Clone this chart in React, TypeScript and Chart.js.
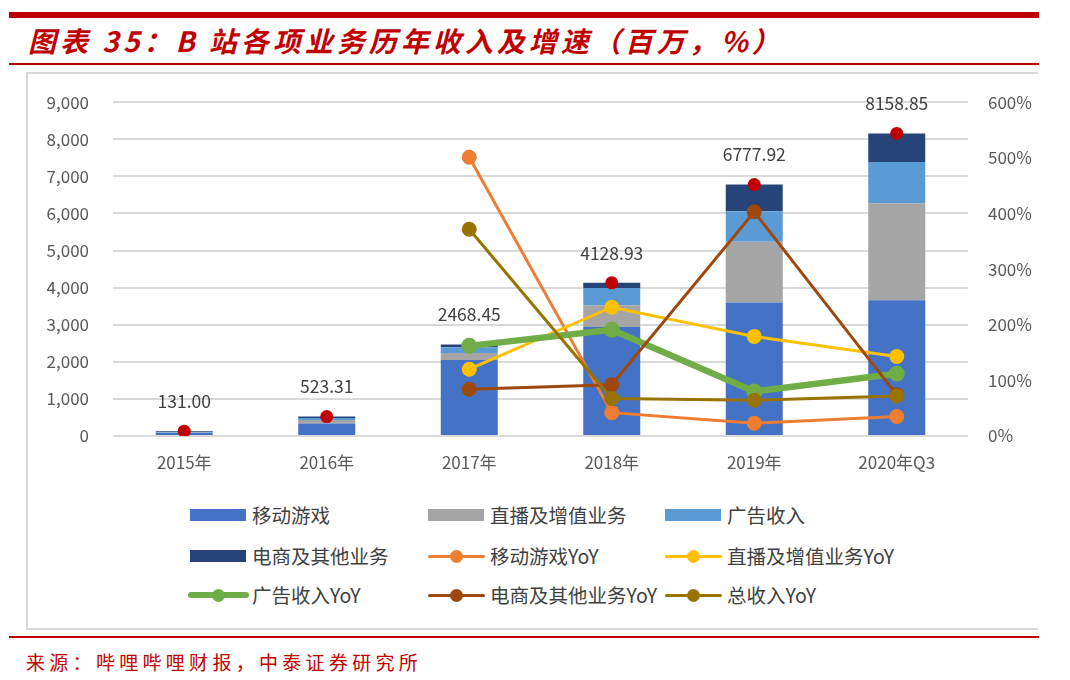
import React, { useEffect, useRef } from "react";
import { Chart, registerables } from "chart.js";

Chart.register(...registerables);

const categories = ["2015年", "2016年", "2017年", "2018年", "2019年", "2020年Q3"];

// revenue segments (百万)
const mobileGames = [80, 339, 2050, 2936, 3598, 3660];
const liveVas = [5, 90, 185, 588, 1642, 2615];
const advertising = [25, 59, 157, 464, 818, 1110];
const ecommerce = [21, 35.31, 76.45, 140.93, 719.92, 773.85];
const totals = [131.0, 523.31, 2468.45, 4128.93, 6777.92, 8158.85];

// YoY (%)
const mobileYoY = [null, null, 501, 42, 23, 35];
const liveYoY = [null, null, 120, 231.5, 179, 143];
const adYoY = [null, null, 162, 191, 80, 112];
const ecomYoY = [null, null, 84, 92, 403, 74];
const totalYoY = [null, null, 371.7, 67.3, 64.2, 72.1];

const leftMax = 9000;
const leftStep = 1000;
const rightMax = 600;
const rightStep = 100;

const FONT = '"Noto Sans CJK SC", "Noto Sans", sans-serif';

const barSeries = [
  { label: "移动游戏", data: mobileGames, color: "#4472C4" },
  { label: "直播及增值业务", data: liveVas, color: "#A5A5A5" },
  { label: "广告收入", data: advertising, color: "#5B9BD5" },
  { label: "电商及其他业务", data: ecommerce, color: "#264478" },
];

const lineSeries = [
  { label: "移动游戏YoY", data: mobileYoY, color: "#ED7D31", width: 3, radius: 7.5, order: 40 },
  { label: "直播及增值业务YoY", data: liveYoY, color: "#FFC000", width: 3, radius: 7.5, order: 30 },
  { label: "广告收入YoY", data: adYoY, color: "#70AD47", width: 6.5, radius: 8, order: 20 },
  { label: "电商及其他业务YoY", data: ecomYoY, color: "#9E480E", width: 3, radius: 7.5, order: 10 },
  { label: "总收入YoY", data: totalYoY, color: "#997300", width: 3, radius: 7.5, order: 0 },
];

const totalLabelPlugin = {
  id: "totalLabels",
  afterDatasetsDraw(chart: any) {
    const idx = chart.data.datasets.findIndex((d: any) => d.label === "总收入");
    if (idx < 0) return;
    const meta = chart.getDatasetMeta(idx);
    const ctx = chart.ctx;
    ctx.save();
    ctx.font = `17.5px ${FONT}`;
    ctx.fillStyle = "#404040";
    ctx.textAlign = "center";
    ctx.textBaseline = "middle";
    meta.data.forEach((pt: any, i: number) => {
      ctx.fillText(totals[i].toFixed(2), pt.x, pt.y - 30);
    });
    ctx.restore();
  },
};

function ChartCanvas() {
  const ref = useRef<HTMLCanvasElement | null>(null);
  useEffect(() => {
    if (!ref.current) return;
    const datasets: any[] = [];
    barSeries.forEach((s) => {
      datasets.push({
        type: "bar",
        label: s.label,
        data: s.data,
        backgroundColor: s.color,
        borderWidth: 0,
        yAxisID: "y",
        stack: "rev",
        order: 100,
        barPercentage: 0.4,
        categoryPercentage: 1,
      });
    });
    datasets.push({
      type: "line",
      label: "总收入",
      data: totals,
      yAxisID: "y",
      stack: "total",
      showLine: false,
      pointRadius: 6.5,
      pointBackgroundColor: "#C00000",
      pointBorderWidth: 0,
      borderColor: "#C00000",
      order: 50,
    });
    lineSeries.forEach((s) => {
      datasets.push({
        type: "line",
        label: s.label,
        data: s.data,
        yAxisID: "y1",
        borderColor: s.color,
        backgroundColor: s.color,
        borderWidth: s.width,
        pointRadius: s.radius,
        pointBackgroundColor: s.color,
        pointBorderWidth: 0,
        tension: 0,
        spanGaps: false,
        order: s.order,
      });
    });

    const chart = new Chart(ref.current, {
      data: { labels: categories, datasets },
      plugins: [totalLabelPlugin],
      options: {
        animation: false,
        responsive: false,
        devicePixelRatio: 1,
        layout: { padding: { top: 25, left: 0, right: 0, bottom: 0 } },
        plugins: {
          legend: { display: false },
          tooltip: { enabled: false },
        },
        scales: {
          x: {
            stacked: true,
            grid: { display: false, drawTicks: false },
            border: { display: false },
            ticks: { padding: 16, color: "#595959", font: { family: FONT, size: 17 } },
            afterFit: (s: any) => {
              s.height = 54;
            },
          },
          y: {
            position: "left",
            stacked: true,
            min: 0,
            max: leftMax,
            ticks: {
              stepSize: leftStep,
              padding: 24,
              color: "#595959",
              font: { family: FONT, size: 17 },
              callback: (v: any) => Number(v).toLocaleString("en-US"),
            },
            grid: { color: "#D9D9D9", lineWidth: 2, drawTicks: false },
            border: { display: false },
            afterFit: (s: any) => {
              s.width = 87;
            },
          },
          y1: {
            position: "right",
            min: 0,
            max: rightMax,
            ticks: {
              stepSize: rightStep,
              padding: 20,
              color: "#595959",
              font: { family: FONT, size: 17 },
              callback: (v: any) => `${v}%`,
            },
            grid: { display: false, drawTicks: false },
            border: { display: false },
            afterFit: (s: any) => {
              s.width = 72;
            },
          },
        },
      } as any,
    });
    return () => chart.destroy();
  }, []);
  return <canvas ref={ref} width={1014} height={422} style={{ display: "block" }} />;
}

const legendItems = [
  ...barSeries.map((s) => ({ label: s.label, color: s.color, kind: "bar", width: 0, radius: 0 })),
  ...lineSeries.map((s) => ({ label: s.label, color: s.color, kind: "line", width: s.width, radius: s.radius })),
];
const legendSwatchX = [190, 428, 665];
const legendTextX = [252, 490, 727];
const legendRowY = [515, 556, 595];

function Legend() {
  return (
    <>
      {legendItems.map((it, i) => {
        const col = i % 3;
        const row = Math.floor(i / 3);
        const cy = legendRowY[row];
        const sx = legendSwatchX[col];
        return (
          <React.Fragment key={it.label}>
            {it.kind === "bar" ? (
              <div
                style={{
                  position: "absolute",
                  left: sx,
                  top: cy - 6,
                  width: 56,
                  height: 12,
                  background: it.color,
                }}
              />
            ) : (
              <>
                <div
                  style={{
                    position: "absolute",
                    left: sx - (it.width > 4 ? 2 : 0),
                    top: cy - it.width / 2,
                    width: 57 + (it.width > 4 ? 4 : 0),
                    height: it.width,
                    background: it.color,
                    borderRadius: it.width / 2,
                  }}
                />
                <div
                  style={{
                    position: "absolute",
                    left: sx + 28.5 - 6.5,
                    top: cy - 6.5,
                    width: 13,
                    height: 13,
                    borderRadius: "50%",
                    background: it.color,
                  }}
                />
              </>
            )}
            <div
              style={{
                position: "absolute",
                left: legendTextX[col],
                top: cy - 15,
                height: 30,
                lineHeight: "30px",
                fontFamily: FONT,
                fontSize: 19.5,
                color: "#404040",
                whiteSpace: "nowrap",
              }}
            >
              {it.label}
            </div>
          </React.Fragment>
        );
      })}
    </>
  );
}

export default function App() {
  return (
    <div
      style={{
        position: "absolute",
        left: 0,
        top: 0,
        width: 1070,
        height: 680,
        background: "#fff",
        overflow: "hidden",
      }}
    >
      <div style={{ position: "absolute", left: 9, top: 12, width: 1030, height: 5.5, background: "#C00000" }} />
      <div
        style={{
          position: "absolute",
          left: 28,
          top: 21,
          height: 38,
          lineHeight: "38px",
          fontFamily: FONT,
          fontWeight: 700,
          fontStyle: "italic",
          fontSize: 28,
          color: "#C00000",
          whiteSpace: "nowrap",
          letterSpacing: 4,
        }}
      >
        图表 35：B 站各项业务历年收入及增速（百万，%）
      </div>
      <div style={{ position: "absolute", left: 9, top: 63, width: 1030, height: 2, background: "#C00000" }} />
      <div
        style={{
          position: "absolute",
          left: 26,
          top: 72,
          width: 1012,
          height: 558,
          borderTop: "2px solid #D9D9D9",
          borderLeft: "2px solid #D9D9D9",
          borderBottom: "2px solid #D9D9D9",
          boxSizing: "border-box",
        }}
      />
      <div style={{ position: "absolute", left: 26, top: 68 }}>
        <ChartCanvas />
      </div>
      <Legend />
      <div style={{ position: "absolute", left: 9, top: 636, width: 1030, height: 2, background: "#C00000" }} />
      <div
        style={{
          position: "absolute",
          left: 26,
          top: 648,
          height: 28,
          lineHeight: "28px",
          fontFamily: FONT,
          fontSize: 19,
          color: "#C00000",
          whiteSpace: "nowrap",
          letterSpacing: 4.3,
        }}
      >
        来源：哔哩哔哩财报，中泰证券研究所
      </div>
    </div>
  );
}
